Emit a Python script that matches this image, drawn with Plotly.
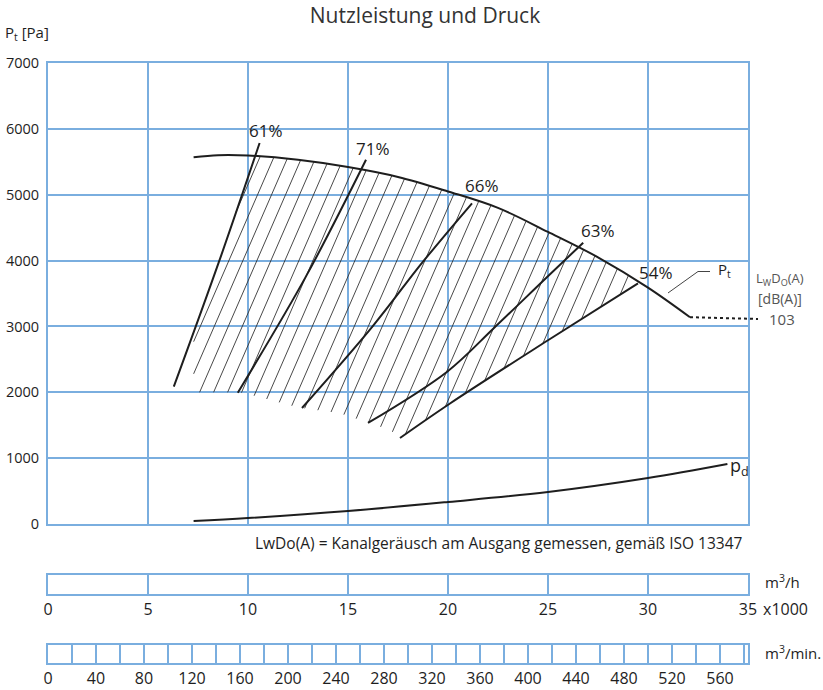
import numpy as np
import plotly.graph_objects as go

# ---------------- data (x in 1000 m3/h, y in Pa) ----------------
pt_x = [7.28, 8.5, 10.0, 12.5, 15.0, 17.5, 20.0, 22.5, 25.0, 27.5, 30.0, 32.1]
pt_y = [5570, 5600, 5595, 5530, 5420, 5270, 5050, 4800, 4435, 4050, 3590, 3140]
pt_ext_x = [32.1, 35.5]
pt_ext_y = [3140, 3113]

pd_x = [7.28, 10, 15, 20, 25, 30, 33.97]
pd_y = [46, 91, 197, 334, 486, 698, 911]

eff_labels = ["61%", "71%", "66%", "63%", "54%"]
e61_x = [6.29, 8.55, 10.58]
e61_y = [2085, 3983, 5785]
e71_x = [9.49, 12.9, 15.9]
e71_y = [1994, 3760, 5530]
e66_x = [12.7, 16.2, 18.75, 21.2]
e66_y = [1761, 2990, 3983, 4870]
e63_x = [16.0, 19.96, 22.3, 24.97, 26.76]
e63_y = [1534, 2313, 2976, 3755, 4271]
e54_x = [17.6, 20.1, 25.0, 29.5]
e54_y = [1306, 1830, 2790, 3655]
eff_label_x = [10.88, 16.26, 21.7, 27.5, 30.4]
eff_label_y = [5982, 5709, 5147, 4464, 3826]

# lower edge of the hatched working range
hb_x = [6.29, 9.6, 10.5, 12.5, 14.6, 15.8, 17.1, 17.6]
hb_y = [2000, 2000, 1933, 1770, 1680, 1560, 1427, 1306]

noise_level = "103"

y_ticks = [0, 1000, 2000, 3000, 4000, 5000, 6000, 7000]
x_grid = [5, 10, 15, 20, 25, 30]
mh_ticks = [0, 5, 10, 15, 20, 25, 30, 35]
mmin_ticks = list(range(0, 561, 40))
mmin_minor = list(range(20, 581, 40))

X_MAX = 35.0
Y_MAX = 7000.0
mmin_max = X_MAX * 1000 / 60.0

# ---------------- hatch computation ----------------
hatch_slope = 698.0      # Pa per 1000 m3/h
hatch_step = 0.7
hatch_x0 = np.arange(6.88 - 3 * hatch_step, 29.0, hatch_step)
hx, hy = [], []
for x0 in hatch_x0:
    xs = np.linspace(x0 - 1.5, x0 + 6.0, 4000)
    ys = 2000 + hatch_slope * (xs - x0)
    m = (ys <= np.interp(xs, pt_x, pt_y)) & (xs >= pt_x[0]) & \
        (xs >= np.interp(ys, e61_y, e61_x)) & \
        (xs <= np.interp(ys, e54_y, e54_x)) & \
        (ys >= np.interp(xs, hb_x, hb_y))
    if not m.any():
        continue
    d = np.diff(m.astype(int))
    starts = list(np.where(d == 1)[0] + 1)
    ends = list(np.where(d == -1)[0])
    if m[0]:
        starts = [0] + starts
    if m[-1]:
        ends = ends + [len(m) - 1]
    for s, e in zip(starts, ends):
        if e > s:
            hx += [xs[s], xs[e], None]
            hy += [ys[s], ys[e], None]

# ---------------- layout geometry ----------------
W, H = 823, 690
# plot edges in window pixels
L_PX, R_PX, T_PX, B_PX = 48, 748, 63, 663
ML, MR, MT, MB = L_PX, W - R_PX, T_PX, H - B_PX
PW, PH = W - ML - MR, H - MT - MB


def pix_x(px):
    return (px - L_PX) / PW


def pix_y(py):
    return (B_PX - py) / PH


main_dom = [pix_y(524), 1.0]
strip1_dom = [pix_y(594), pix_y(575)]
strip2_dom = [0.0, pix_y(645)]


def xp(v):
    return v / X_MAX


def yp(v):
    return main_dom[0] + v / Y_MAX * (main_dom[1] - main_dom[0])


# ---------------- figure ----------------
grid_c = "#7aaedf"
ink = "#1e1e1e"
gray = "#555555"
FONT = "Open Sans"

fig = go.Figure()
fig.add_trace(go.Scatter(x=hx, y=hy, mode="lines", line=dict(color="#333", width=0.9),
                         hoverinfo="skip"))
for ex, ey in [(e61_x, e61_y), (e71_x, e71_y), (e66_x, e66_y), (e63_x, e63_y), (e54_x, e54_y)]:
    fig.add_trace(go.Scatter(x=ex, y=ey, mode="lines", line=dict(color=ink, width=2, shape="spline"),
                             hoverinfo="skip"))
fig.add_trace(go.Scatter(x=pt_x, y=pt_y, mode="lines", line=dict(color=ink, width=2, shape="spline"),
                         hoverinfo="skip"))
fig.add_trace(go.Scatter(x=pd_x, y=pd_y, mode="lines", line=dict(color=ink, width=2, shape="spline"),
                         hoverinfo="skip"))
# Pt label leader
fig.add_trace(go.Scatter(x=[31.0, 32.5, 33.1], y=[3508, 3834, 3834], mode="lines",
                         line=dict(color="#444", width=1), hoverinfo="skip"))
# strip subplots (empty traces to register them)
fig.add_trace(go.Scatter(x=[], y=[], xaxis="x2", yaxis="y2"))
fig.add_trace(go.Scatter(x=[], y=[], xaxis="x3", yaxis="y3"))

# dotted extension to the noise value (runs past the frame)
fig.add_shape(type="line", xref="paper", yref="paper",
              x0=xp(pt_ext_x[0]), x1=xp(pt_ext_x[1]),
              y0=yp(pt_ext_y[0]), y1=yp(pt_ext_y[1]),
              line=dict(color=ink, width=2, dash="dot"))

ann = []
for lab, lx, ly in zip(eff_labels, eff_label_x, eff_label_y):
    ann.append(dict(x=lx, y=ly, xref="x", yref="y", text=lab, showarrow=False,
                    xanchor="center", yanchor="middle", font=dict(size=17, color=ink)))


def pa(x, y, text, xa="left", size=15, color=ink):
    return dict(x=x, y=y, xref="paper", yref="paper", text=text, showarrow=False,
                xanchor=xa, yanchor="middle", font=dict(size=size, color=color))


ann += [
    dict(x=33.4, y=3850, xref="x", yref="y", text="P<sub>t</sub>", showarrow=False,
         xanchor="left", yanchor="middle", font=dict(size=15, color=ink)),
    pa(xp(34.0), yp(880), "p<sub>d</sub>", size=18),
    pa(xp(36.6), yp(3725), "L<sub>W</sub>D<sub>O</sub>(A)", xa="center", size=13, color=gray),
    pa(xp(36.6), yp(3430), "[dB(A)]", xa="center", size=14, color=gray),
    pa(xp(35.95), yp(3113), noise_level, size=15, color=gray),
    pa(pix_x(3), pix_y(33), "P<sub>t</sub> [Pa]", size=15),
    pa(pix_x(745), pix_y(543), "LwDo(A) = Kanalgeräusch am Ausgang gemessen, gemäß ISO 13347",
       xa="right", size=15.5),
    pa(pix_x(763), pix_y(581), "m<sup>3</sup>/h", size=15),
    pa(pix_x(761), pix_y(609), "x1000", size=16),
    pa(pix_x(763), pix_y(652), "m<sup>3</sup>/min.", size=15),
]

frame = dict(showline=True, linecolor=grid_c, linewidth=2, mirror=True, zeroline=False,
             ticks="", gridcolor=grid_c, gridwidth=2, automargin=False)

fig.update_layout(
    width=W, height=H,
    margin=dict(l=ML, r=MR, t=MT, b=MB, autoexpand=False),
    paper_bgcolor="white", plot_bgcolor="white", showlegend=False,
    font=dict(family=FONT, size=15, color=ink),
    title=dict(text="Nutzleistung und Druck", x=425 / W, xanchor="center",
               y=1 - 16 / H, yanchor="middle", yref="container", automargin=False,
               font=dict(size=21, color="#333")),
    xaxis=dict(domain=[0, 1], range=[0, X_MAX], tickvals=x_grid, showticklabels=False,
               showgrid=True, anchor="y", **frame),
    yaxis=dict(domain=main_dom, range=[0, Y_MAX], tickvals=y_ticks, showgrid=True,
               anchor="x", ticklabelstandoff=4, tickfont=dict(size=14.5, color=ink), **frame),
    xaxis2=dict(domain=[0, 1], range=[0, X_MAX], tickvals=mh_ticks,
                ticktext=[str(t) for t in mh_ticks], showgrid=True, anchor="y2",
                tickfont=dict(size=16, color=ink), ticklabelstandoff=0, **frame),
    yaxis2=dict(domain=strip1_dom, range=[0, 1], showticklabels=False, showgrid=False,
                anchor="x2", **frame),
    xaxis3=dict(domain=[0, 1], range=[0, mmin_max], tickvals=mmin_ticks,
                ticktext=[str(t) for t in mmin_ticks], showgrid=True, anchor="y3",
                minor=dict(tickvals=mmin_minor, showgrid=True, gridcolor=grid_c,
                           gridwidth=2, ticks=""),
                tickfont=dict(size=16, color=ink), ticklabelstandoff=0, **frame),
    yaxis3=dict(domain=strip2_dom, range=[0, 1], showticklabels=False, showgrid=False,
                anchor="x3", **frame),
    annotations=ann,
)

fig.write_html(
    "out.html",
    config={"displayModeBar": False},
    post_script="document.body.style.margin='0';document.body.style.overflow='hidden';",
)
